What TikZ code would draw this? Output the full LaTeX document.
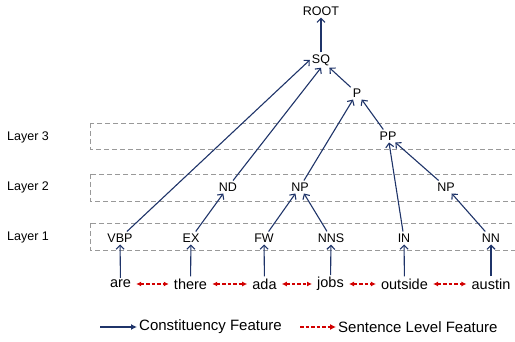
\documentclass[tikz,border=0pt]{standalone}
\usepackage{fontspec}
\setmainfont{Liberation Sans}
\usetikzlibrary{arrows.meta}
\definecolor{navy}{RGB}{31,52,105}
\definecolor{sentred}{RGB}{210,0,0}
\tikzset{
  lab/.style={font=\fontsize{12.5}{14}\selectfont,inner sep=2pt},
  word/.style={font=\fontsize{14.5}{16}\selectfont,inner sep=2pt},
  layer/.style={font=\fontsize{12.5}{14}\selectfont,anchor=west,inner sep=0pt},
  cons/.style={navy,line width=1.1pt,-{Straight Barb[length=4pt,width=8pt]}},
  sent/.style={sentred,line width=1.1pt,dash pattern=on 3.5pt off 2pt,
    {Latex[length=5pt,width=5pt]}-{Latex[length=5pt,width=5pt]},shorten <=3pt,shorten >=3pt},
  layerbox/.style={gray!80,line width=0.8pt,dash pattern=on 5pt off 3pt}
}
\begin{document}
\begin{tikzpicture}[x=1pt,y=-1pt]
\useasboundingbox (0,0) rectangle (515,342);
\clip (0,0) rectangle (515,342);
% layers
\draw[layerbox] (90,123) rectangle (530,149);
\draw[layerbox] (90,174) rectangle (530,201);
\draw[layerbox] (90,223) rectangle (530,250);
\node[layer] (l3) at (7,137) {Layer 3};
\node[layer] (l2) at (7,187) {Layer 2};
\node[layer] (l1) at (7,237) {Layer 1};
% tree
\node[lab] (root) at (321,11) {ROOT};
\node[lab] (sq) at (321,60) {SQ};
\node[lab] (p) at (357,93) {P};
\node[lab] (pp) at (388,136) {PP};
\node[lab] (nd) at (228,187) {ND};
\node[lab] (np1) at (300,187) {NP};
\node[lab] (np2) at (446,187) {NP};
\node[lab] (vbp) at (120,238) {VBP};
\node[lab] (ex) at (191,238) {EX};
\node[lab] (fw) at (264,238) {FW};
\node[lab] (nns) at (331,238) {NNS};
\node[lab] (in) at (404,238) {IN};
\node[lab] (nn) at (491,238) {NN};
% words
\node[word] (are) at (120.5,284) {are};
\node[word] (there) at (190.5,284) {there};
\node[word] (ada) at (264.5,284) {ada};
\node[word] (jobs) at (330.5,284) {jobs};
\node[word] (outside) at (404.5,284) {outside};
\node[word] (austin) at (491,284) {austin};
\draw[cons] (sq) -- (root);
\draw[cons] (vbp) -- (sq.west);
\draw[cons] (nd) -- (sq.south);
\draw[cons] (p) -- (sq);
\draw[cons] (np1) -- (p);
\draw[cons] (pp) -- (p);
\draw[cons] (in) -- (pp);
\draw[cons] (np2) -- (pp);
\draw[cons] (ex) -- (nd);
\draw[cons] (fw) -- (np1);
\draw[cons] (nns) -- (np1);
\draw[cons] (nn) -- (np2);
\draw[cons] (are) -- (vbp);
\draw[cons] (there) -- (ex);
\draw[cons] (ada) -- (fw);
\draw[cons] (jobs) -- (nns);
\draw[cons] (outside) -- (in);
\draw[cons] (austin) -- (nn);
\draw[sent] (are) -- (there);
\draw[sent] (there) -- (ada);
\draw[sent] (ada) -- (jobs);
\draw[sent] (jobs) -- (outside);
\draw[sent] (outside) -- (austin);
% legend
\coordinate (lc) at (100,327);
\node[word,anchor=west,font=\fontsize{15}{17}\selectfont] (legc) at (137,327) {Constituency Feature};
\draw[navy,line width=1.4pt,-{Latex[length=6pt,width=6pt]}] (lc) -- (legc);
\coordinate (ls) at (300,327);
\node[word,anchor=west,font=\fontsize{15}{17}\selectfont] (legs) at (336,327) {Sentence Level Feature};
\draw[sentred,line width=1.1pt,dash pattern=on 3.5pt off 2pt,-{Latex[length=6pt,width=6pt]}] (ls) -- (legs);
\end{tikzpicture}
\end{document}
